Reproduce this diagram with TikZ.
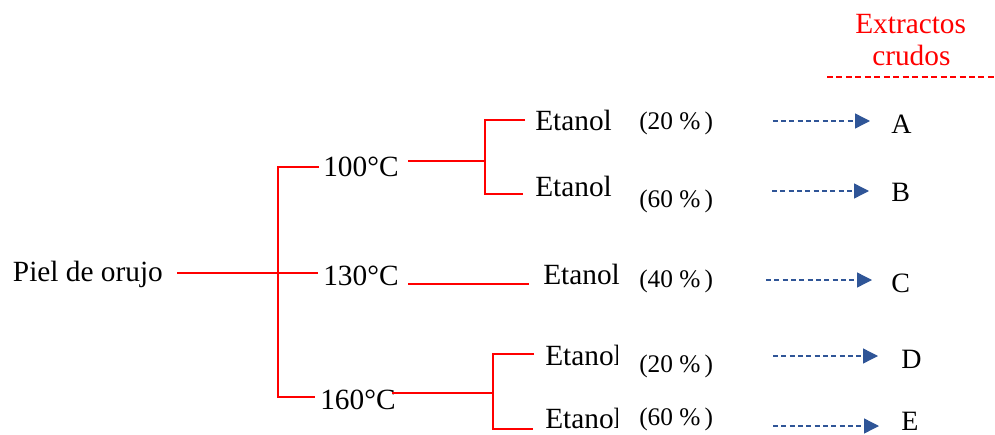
\documentclass[tikz,border=0pt]{standalone}
\usepackage{fontspec}
\setmainfont{Liberation Serif}
\usetikzlibrary{arrows.meta}
\definecolor{arrblue}{RGB}{47,85,151}
\tikzset{
  lbl/.style={anchor=base west, inner sep=0pt, font=\fontsize{22}{24}\selectfont},
  pct/.style={anchor=base west, inner sep=0pt, font=\fontsize{19}{21}\selectfont},
  res/.style={anchor=base west, inner sep=0pt, font=\fontsize{21}{23}\selectfont},
  hdr/.style={anchor=base west, inner sep=0pt, text=red, font=\fontsize{22}{24}\selectfont},
  tree/.style={draw=red, line width=1.5pt},
  flow/.style={draw=arrblue, line width=1pt, dash pattern=on 3.75pt off 2.5pt,
    -{Triangle[length=11.25pt,width=11.25pt]}},
  rule/.style={draw=red, line width=1pt, dash pattern=on 4.5pt off 2.6pt}
}
\begin{document}
\begin{tikzpicture}[x=0.75pt,y=-0.75pt]
\useasboundingbox (0,0) rectangle (995,435);
% header
\node[hdr] (h1) at (855,33.3) {Extractos};
\node[hdr] (h2) at (872,65) {crudos};
\coordinate (r1) at (827,77);
\coordinate (r2) at (995,77);
\draw[rule] (r1) -- (r2);
% text nodes
\node[lbl] (piel) at (12.7,281.7) {Piel de orujo};
\node[lbl] (t100) at (323,176) {100°C};
\node[lbl] (t130) at (323,285) {130°C};
\node[lbl] (t160) at (320,409) {160°C};
\node[lbl] (eA) at (535,130) {Etanol};
\node[lbl] (eB) at (535,196.7) {Etanol};
\node[lbl] (eC) at (543,284) {Etanol};
\begin{scope}
\clip (0,0) rectangle (617,435);
\node[lbl] (eD) at (545,365) {Etanol};
\node[lbl] (eE) at (545,428) {Etanol};
\end{scope}
\node[pct] (pA) at (639,129.5) {(20 \%\,)};
\node[pct] (pB) at (639,207) {(60 \%\,)};
\node[pct] (pC) at (639,287) {(40 \%\,)};
\node[pct] (pD) at (639,372.7) {(20 \%\,)};
\node[pct] (pE) at (639,425) {(60 \%\,)};
\node[res] (A) at (891,133.5) {A};
\node[res] (B) at (891,201) {B};
\node[res] (C) at (891,292.7) {C};
\node[res] (D) at (901,368) {D};
\node[res] (E) at (901,430) {E};
% tree coordinates
\coordinate (p0) at (177,273);
\coordinate (p1) at (318,273);
\coordinate (v1t) at (278,167);
\coordinate (v1b) at (278,397);
\coordinate (s100) at (319,167);
\coordinate (s160) at (315,397);
\coordinate (a100) at (408,161);
\coordinate (j100) at (484.5,161);
\coordinate (j100t) at (484.5,119.5);
\coordinate (j100b) at (484.5,193.5);
\coordinate (eAin) at (525,119.5);
\coordinate (eBin) at (523,193.5);
\coordinate (a130) at (408,284);
\coordinate (eCin) at (529,284);
\coordinate (a160) at (392,392.7);
\coordinate (j160) at (493,392.7);
\coordinate (j160t) at (493,354);
\coordinate (j160b) at (493,429);
\coordinate (eDin) at (534,354);
\coordinate (eEin) at (533,429);
\draw[tree] (p0) -- (p1);
\draw[tree] (s100) -- (v1t) -- (v1b) -- (s160);
\draw[tree] (a100) -- (j100);
\draw[tree] (eAin) -- (j100t) -- (j100b) -- (eBin);
\draw[tree] (a130) -- (eCin);
\draw[tree] (a160) -- (j160);
\draw[tree] (eDin) -- (j160t) -- (j160b) -- (eEin);
% arrows
\coordinate (fA1) at (772.7,121);   \coordinate (fA2) at (870,121);
\coordinate (fB1) at (772,191);     \coordinate (fB2) at (869,191);
\coordinate (fC1) at (766,280);     \coordinate (fC2) at (872,280);
\coordinate (fD1) at (773,356);     \coordinate (fD2) at (878,356);
\coordinate (fE1) at (773,426);     \coordinate (fE2) at (879,426);
\draw[flow] (fA1) -- (fA2);
\draw[flow] (fB1) -- (fB2);
\draw[flow] (fC1) -- (fC2);
\draw[flow] (fD1) -- (fD2);
\draw[flow] (fE1) -- (fE2);
\end{tikzpicture}
\end{document}
